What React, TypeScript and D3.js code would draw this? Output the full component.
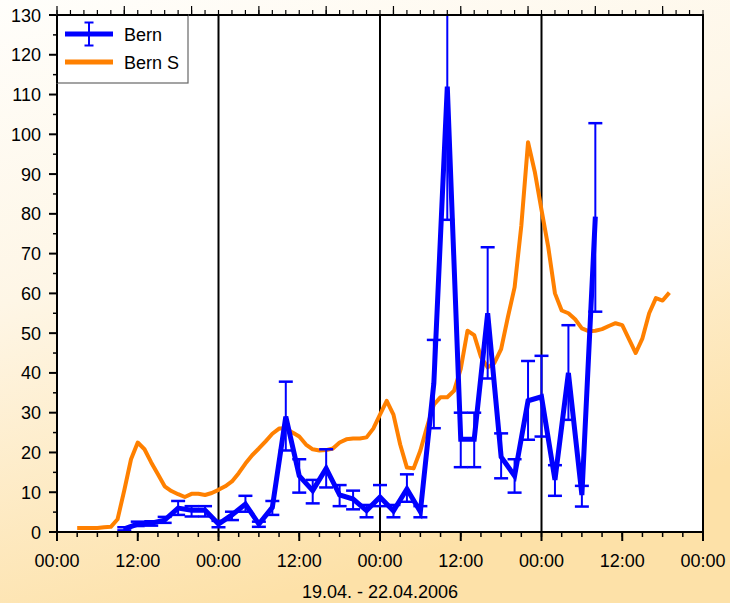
import React from 'react';
import * as d3 from 'd3';

// hours since 19.04.2006 00:00
const bernHours = [10, 12, 14, 16, 18, 20, 22, 24, 26, 28, 30, 32, 34, 36, 38, 40, 42, 44, 46, 48, 50, 52, 54, 56, 58, 60, 62, 64, 66, 68, 70, 72, 74, 76, 78, 80];
const bernValues = [0.8, 2.0, 2.2, 3.0, 6.0, 5.5, 5.5, 2.0, 4.3, 7.0, 2.0, 6.2, 29, 14.1, 10.4, 16, 9.3, 8.3, 5.4, 8.8, 5.3, 10.8, 5.1, 37.4, 112, 23.3, 23.3, 55, 18.9, 14.1, 33, 34, 13.1, 40, 9.3, 79.3];
const bernLow = [0.4, 1.5, 1.6, 2.3, 4.3, 3.9, 3.9, 1.2, 3.0, 5.1, 1.3, 4.3, 20.5, 9.9, 7.2, 11.2, 6.5, 5.7, 3.7, 6.5, 3.7, 7.6, 3.7, 26.1, 78.5, 16.3, 16.3, 38.6, 13.5, 9.9, 23.2, 24, 9.1, 28.2, 6.4, 55.4];
const bernHigh = [1.2, 2.6, 2.7, 3.8, 7.8, 6.5, 6.5, 2.8, 5.1, 9.1, 2.6, 7.8, 37.8, 18.3, 13.1, 20.8, 11.8, 10.4, 6.8, 11.8, 6.8, 14.5, 6.5, 48.3, 145, 30, 30, 71.6, 24.8, 18.3, 43, 44.3, 16.8, 52, 11.6, 102.8];

const bernSHours = [3, 4, 5, 6, 7, 8, 9, 10, 11, 12, 13, 14, 15, 16, 17, 18, 19, 20, 21, 22, 23, 24, 25, 26, 27, 28, 29, 30, 31, 32, 33, 34, 35, 36, 37, 38, 39, 40, 41, 42, 43, 44, 45, 46, 47, 48, 49, 50, 51, 52, 53, 54, 55, 56, 57, 58, 59, 60, 61, 62, 63, 64, 65, 66, 67, 68, 69, 70, 71, 72, 73, 74, 75, 76, 77, 78, 79, 80, 81, 82, 83, 84, 85, 86, 87, 88, 89, 90, 91];
const bernSValues = [1, 1, 1, 1, 1.2, 1.3, 3.2, 10.5, 18.3, 22.5, 20.8, 17.5, 14.5, 11.5, 10.3, 9.5, 8.8, 9.6, 9.6, 9.3, 9.8, 10.6, 11.5, 12.7, 14.8, 17.2, 19.3, 21, 22.8, 24.7, 26, 26.1, 25, 24, 22, 20.8, 20.5, 20.6, 21, 22.5, 23.3, 23.5, 23.5, 23.8, 26, 29.5, 33, 29.5, 22, 16.2, 16, 20.5, 26.5, 32, 33.9, 33.9, 35.5, 41, 50.6, 49.5, 44, 41.4, 42.5, 46, 54, 61.5, 77, 98, 90.6, 81, 71.7, 60, 55.7, 55, 53.5, 51.2, 50.5, 50.6, 51, 51.8, 52.5, 52, 48.5, 45, 48.7, 55, 58.8, 58.2, 60.2];

const xTickLabels = ['00:00', '12:00', '00:00', '12:00', '00:00', '12:00', '00:00', '12:00', '00:00'];
const yTickLabels = ['0', '10', '20', '30', '40', '50', '60', '70', '80', '90', '100', '110', '120', '130'];
const seriesNames = ['Bern', 'Bern S'];
const xTitle = '19.04. - 22.04.2006';

const W = 730;
const H = 603;
const L = 57, R = 703, T = 15, B = 532;
const FONT = '"Liberation Sans", Arial, sans-serif';
const FS = 18;
const BLUE = '#0000ff';
const ORANGE = '#ff8000';

export default function App() {
  const x = d3.scaleLinear().domain([0, 96]).range([L, R]);
  const y = d3.scaleLinear().domain([0, 130]).range([B, T]);

  const bern = bernHours.map((h, i) => ({ h, v: bernValues[i], lo: bernLow[i], hi: bernHigh[i] }));
  const bernS = bernSHours.map((h, i) => ({ h, v: bernSValues[i] }));

  const line = d3.line<{ h: number; v: number }>().x((d) => x(d.h)).y((d) => y(d.v));

  const minorX = d3.range(0, 97, 3);
  const majorX = d3.range(0, 97, 12);
  const dayLines = [24, 48, 72];
  const topMinor = d3.range(0, 97, 2);
  const topMajor = d3.range(0, 97, 10);
  const minorY = d3.range(5, 130, 10);
  const majorY = d3.range(0, 131, 10);
  const cap = 7;

  return (
    <svg width={W} height={H} style={{ position: 'absolute', left: 0, top: 0 }} fontFamily={FONT}>
      <defs>
        <linearGradient id="bg" x1="0" y1="0" x2="0.35" y2="1">
          <stop offset="0" stopColor="#fffefb" />
          <stop offset="0.45" stopColor="#fef6e6" />
          <stop offset="1" stopColor="#fde1a8" />
        </linearGradient>
        <clipPath id="plot">
          <rect x={L} y={T} width={R - L} height={B - T} />
        </clipPath>
      </defs>
      <rect width={W} height={H} fill="url(#bg)" />
      <rect x={L} y={T} width={R - L} height={B - T} fill="#fff" />

      {dayLines.map((h) => (
        <line key={h} x1={x(h)} x2={x(h)} y1={T} y2={B} stroke="#000" strokeWidth={2} />
      ))}

      <g clipPath="url(#plot)">
        <path d={line(bernS) || ''} fill="none" stroke={ORANGE} strokeWidth={4} strokeLinejoin="round" />
        {bern.map((d, i) => (
          <g key={i} stroke={BLUE}>
            <line x1={x(d.h)} x2={x(d.h)} y1={y(d.lo)} y2={y(d.hi)} strokeWidth={2} />
            <line x1={x(d.h) - cap} x2={x(d.h) + cap} y1={y(d.lo)} y2={y(d.lo)} strokeWidth={2.5} />
            <line x1={x(d.h) - cap} x2={x(d.h) + cap} y1={y(d.hi)} y2={y(d.hi)} strokeWidth={2.5} />
          </g>
        ))}
        <path d={line(bern) || ''} fill="none" stroke={BLUE} strokeWidth={5} strokeLinejoin="miter" />
      </g>

      {/* frame */}
      <rect x={L} y={T} width={R - L} height={B - T} fill="none" stroke="#000" strokeWidth={2} />

      {/* bottom axis */}
      {minorX.map((h) => (
        <line key={'bm' + h} x1={x(h)} x2={x(h)} y1={B} y2={B + 5} stroke="#000" strokeWidth={1.5} />
      ))}
      {majorX.map((h, i) => (
        <g key={'bM' + h}>
          <line x1={x(h)} x2={x(h)} y1={B} y2={B + 9} stroke="#000" strokeWidth={2} />
          <text x={x(h)} y={567} textAnchor="middle" fontSize={FS} fill="#000">
            {xTickLabels[i]}
          </text>
        </g>
      ))}
      <text x={(L + R) / 2} y={598} textAnchor="middle" fontSize={FS} fill="#000">
        {xTitle}
      </text>

      {/* top axis */}
      {topMinor.map((h) => (
        <line key={'tm' + h} x1={x(h)} x2={x(h)} y1={T} y2={T - 5} stroke="#000" strokeWidth={1.2} />
      ))}
      {topMajor.map((h) => (
        <line key={'tM' + h} x1={x(h)} x2={x(h)} y1={T} y2={T - 9} stroke="#000" strokeWidth={1.2} />
      ))}

      {/* left axis */}
      {minorY.map((v) => (
        <line key={'lm' + v} x1={L} x2={L - 4} y1={y(v)} y2={y(v)} stroke="#000" strokeWidth={1.5} />
      ))}
      {majorY.map((v, i) => (
        <g key={'lM' + v}>
          <line x1={L} x2={L - 8} y1={y(v)} y2={y(v)} stroke="#000" strokeWidth={2} />
          <text x={41} y={y(v) + 6.5} textAnchor="end" fontSize={FS} fill="#000">
            {yTickLabels[i]}
          </text>
        </g>
      ))}

      {/* legend */}
      <rect x={L} y={T} width={131} height={68} fill="#fff" stroke="#666" strokeWidth={1.2} />
      <line x1={L} x2={L} y1={T} y2={T + 68} stroke="#000" strokeWidth={2} />
      <line x1={L} x2={L + 131} y1={T} y2={T} stroke="#000" strokeWidth={2} />
      <line x1={65} x2={113} y1={34} y2={34} stroke={BLUE} strokeWidth={5} />
      <line x1={89} x2={89} y1={22.5} y2={45.5} stroke={BLUE} strokeWidth={2} />
      <line x1={84.5} x2={93.5} y1={22.5} y2={22.5} stroke={BLUE} strokeWidth={2} />
      <line x1={84.5} x2={93.5} y1={45.5} y2={45.5} stroke={BLUE} strokeWidth={2} />
      <text x={124} y={40.5} fontSize={FS} fill="#000">{seriesNames[0]}</text>
      <line x1={65} x2={113} y1={62} y2={62} stroke={ORANGE} strokeWidth={5} />
      <text x={124} y={68.5} fontSize={FS} fill="#000">{seriesNames[1]}</text>
    </svg>
  );
}
